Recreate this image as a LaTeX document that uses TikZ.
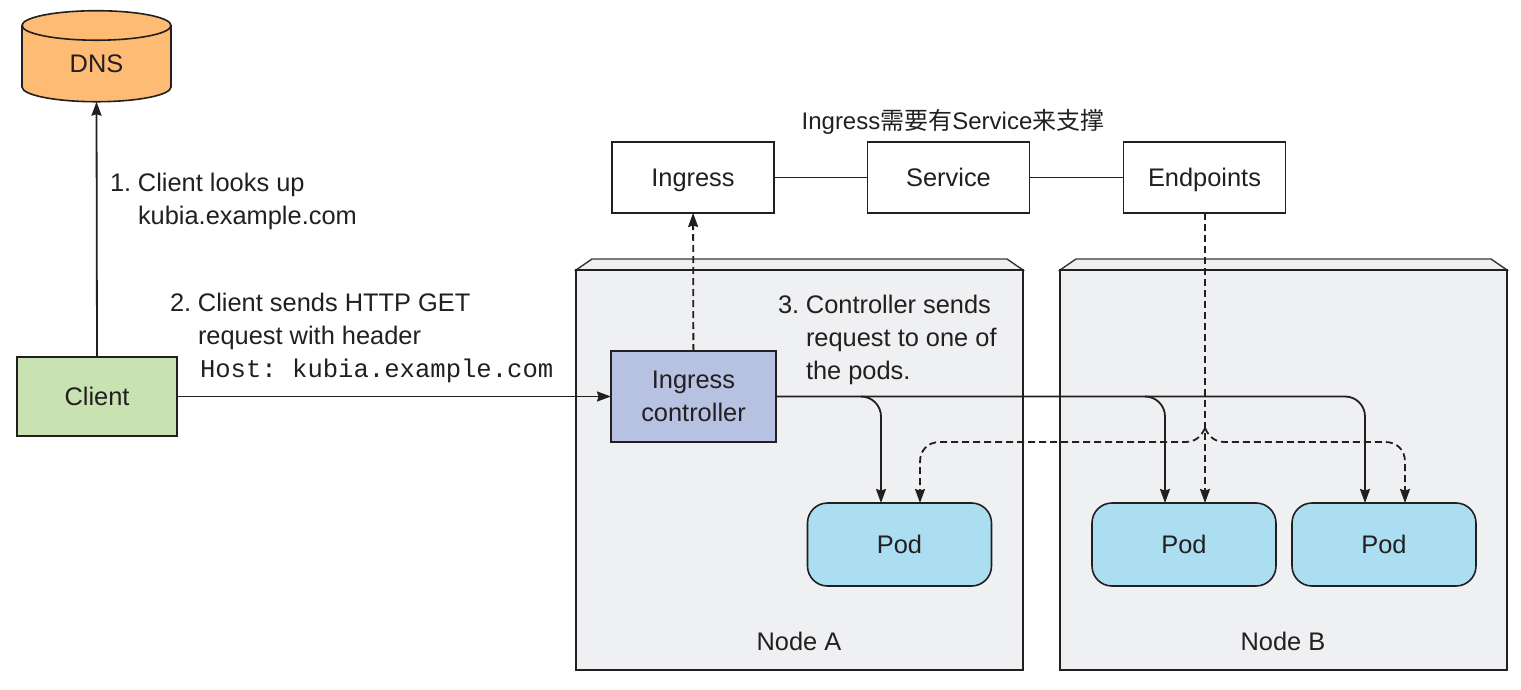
\documentclass[tikz,border=0pt]{standalone}
\usepackage{fontspec}
\setmainfont{Liberation Sans}
\setmonofont{Liberation Mono}
\newfontfamily\cjk{Noto Sans CJK SC}
\usetikzlibrary{arrows.meta,shapes.geometric}

\definecolor{ink}{HTML}{231F20}
\definecolor{dnsfill}{HTML}{FDBB74}
\definecolor{clientfill}{HTML}{C8E3B1}
\definecolor{ctrlfill}{HTML}{B7C1E1}
\definecolor{podfill}{HTML}{AADEF0}
\definecolor{hostfill}{HTML}{EFF0F2}

\tikzset{
  every node/.style={font=\fontsize{25.4}{33}\selectfont,text=ink,inner sep=0,outer sep=0},
  box/.style={draw=ink,line width=1.6pt},
  podbox/.style={box,fill=podfill,rounded corners=20pt,minimum width=184,minimum height=83},
  objbox/.style={box,fill=white,minimum width=162,minimum height=71,text height=23pt,text depth=5pt},
  hostbox/.style={box,fill=hostfill,minimum width=447,minimum height=400},
  hosttop/.style={draw=ink!90,fill=hostfill,line width=1.4pt},
  link/.style={draw=ink,line width=1.8pt},
  arrow/.style={link,-{Stealth[length=14pt,width=10pt,inset=1.5pt]}},
  dasharrow/.style={arrow,dash pattern=on 7pt off 4pt},
}
\newcommand{\stepnum}[1]{\makebox[28pt][l]{#1}}

\begin{document}
\begin{tikzpicture}[x=1pt,y=-1pt]
  \useasboundingbox (0,0) rectangle (1521,690);

  % worker nodes
  \draw[hosttop] (576,270) -- (592,259) -- (1007,259) -- (1023,270) -- cycle;
  \node (nodea) at (799.5,470) [hostbox] {};
  \node (nodealabel) at (799,641) {Node A};
  \draw[hosttop] (1060,270) -- (1076,259) -- (1491,259) -- (1507,270) -- cycle;
  \node (nodeb) at (1283.5,470) [hostbox] {};
  \node (nodeblabel) at (1283,641) {Node B};

  \node (dns) at (96.5,64) [box,cylinder,shape border rotate=90,aspect=0.55,
    cylinder uses custom fill,cylinder body fill=dnsfill,cylinder end fill=dnsfill,
    minimum width=149,minimum height=91] {DNS};
  \node (client) at (97,396.5) [box,fill=clientfill,minimum width=160,minimum height=79] {Client};

  \node (ingress) at (693,177.5) [objbox] {Ingress};
  \node (service) at (948.5,177.5) [objbox] {Service};
  \node (endpoints) at (1204.5,177.5) [objbox] {Endpoints};
  \node (title) at (953,121.5) [font=\fontsize{24}{33}\selectfont] {Ingress{\cjk 需要有}Service{\cjk 来支撑}};

  \node (ctrl) at (693.5,396.5) [box,fill=ctrlfill,minimum width=165,minimum height=91,align=center] {Ingress\\controller};

  \node (poda) at (899.5,544.5) [podbox] {Pod};
  \node (podb) at (1184,544.5) [podbox] {Pod};
  \node (podc) at (1384,544.5) [podbox] {Pod};

  \node (stepone) at (110,201) [anchor=west,align=left] {\stepnum{1.}Client looks up\\\stepnum{}kubia.example.com};
  \node (steptwo) at (170,338) [anchor=west,align=left] {\stepnum{2.}Client sends HTTP GET\\\stepnum{}request with header\\\stepnum{}\hspace{2pt}\fontsize{25.6}{33}\ttfamily Host: kubia.example.com};
  \node (stepthree) at (778,340) [anchor=west,align=left] {\stepnum{3.}Controller sends\\\stepnum{}request to one of\\\stepnum{}the pods.};

  % free ends on the pods and the branch points
  \coordinate (a0) at (861,396.5);
  \coordinate (a1) at (881,503);
  \coordinate (a2) at (920,503);
  \coordinate (b0) at (1145,396.5);
  \coordinate (b1) at (1165,503);
  \coordinate (b2) at (1205,503);
  \coordinate (c1) at (1365,503);
  \coordinate (c2) at (1405,503);
  \coordinate (fork) at (1205,428);

  \draw[link] (ingress) -- (service);
  \draw[link] (service) -- (endpoints);
  \draw[arrow] (client.north) -- (dns.south);
  \draw[arrow] (client) -- (ctrl);
  \draw[dasharrow] (ctrl) -- (ingress);

  \draw[arrow,rounded corners=20pt] (ctrl.east) -- (ctrl.east -| c1) -- (c1);
  \draw[arrow,rounded corners=20pt] (a0) -- (a0 -| a1) -- (a1);
  \draw[arrow,rounded corners=20pt] (b0) -- (b0 -| b1) -- (b1);

  \draw[dasharrow] (endpoints.south -| b2) -- (b2);
  \draw[dasharrow] (fork) .. controls (1201,437) and (1195,442) .. (1185,442) -- (940,442)
    .. controls (928,442) and (920,450) .. (920,462) -- (a2);
  \draw[dasharrow] (fork) .. controls (1209,437) and (1215,442) .. (1225,442) -- (1385,442)
    .. controls (1397,442) and (1405,450) .. (1405,462) -- (c2);
\end{tikzpicture}
\end{document}
